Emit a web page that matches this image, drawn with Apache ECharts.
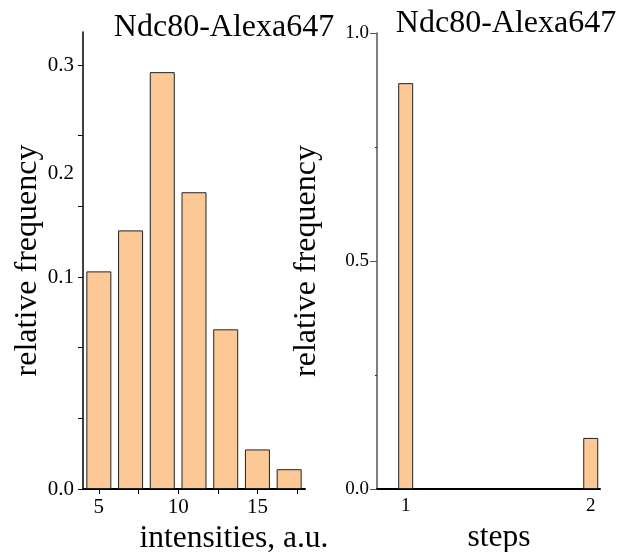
<!DOCTYPE html>
<html>
<head>
<meta charset="utf-8">
<script src="https://cdn.jsdelivr.net/npm/echarts@6/dist/echarts.min.js"></script>
<style>html,body{margin:0;padding:0;background:#fff}#c{width:622px;height:552px}</style>
</head>
<body>
<div id="c"></div>
<script>
// ---- data ----
const titleText = 'Ndc80-Alexa647';
const intensityBins = [5, 7, 9, 11, 13, 15, 17];
const intensityFreq = [0.154, 0.183, 0.295, 0.210, 0.113, 0.028, 0.014];
const stepBins = [1, 2];
const stepFreq = [0.890, 0.112];
const leftXTicks = [5, 7.5, 10, 12.5, 15, 17.5];
const leftXLabels = [5, 10, 15];
const leftYTicks = [0, 0.05, 0.1, 0.15, 0.2, 0.25, 0.3];
const leftYLabelPos = [0, 0.15, 0.2236, 0.3];
const leftYLabelText = ['0.0', '0.1', '0.2', '0.3'];
const rightXLabels = [1, 2];
const rightYLabelText = ['0.0', '0.5', '1.0'];

const FONT = '"Liberation Serif", "DejaVu Serif", serif';
const barColor = '#FCC895';

function nearestLabel(v) {
  let best = 0;
  for (let i = 1; i < leftYLabelPos.length; i++) {
    if (Math.abs(leftYLabelPos[i] - v) < Math.abs(leftYLabelPos[best] - v)) best = i;
  }
  return leftYLabelText[best];
}

const chart = echarts.init(document.getElementById('c'), null, {renderer: 'canvas'});
chart.setOption({
  backgroundColor: '#fff',
  animation: false,
  title: [
    {text: titleText, left: 224, top: 12, textAlign: 'center', padding: 0,
     textStyle: {fontFamily: FONT, fontSize: 32, fontWeight: 'normal', color: '#000'}},
    {text: titleText, left: 506, top: 8, textAlign: 'center', padding: 0,
     textStyle: {fontFamily: FONT, fontSize: 32, fontWeight: 'normal', color: '#000'}}
  ],
  grid: [
    {left: 83, top: 32, width: 222, height: 457, containLabel: false, outerBoundsMode: 'none'},
    {left: 377, top: 33, width: 223, height: 456, containLabel: false, outerBoundsMode: 'none'}
  ],
  xAxis: [
    {type: 'value', gridIndex: 0, min: 4, max: 18,
     name: 'intensities, a.u.', nameLocation: 'middle', nameGap: 30,
     nameTextStyle: {fontFamily: FONT, fontSize: 31.5, color: '#000', padding: [0, 0, 0, 80]},
     axisLine: {show: true, onZero: false, lineStyle: {color: '#000', width: 2}},
     axisTick: {show: true, length: 5, customValues: leftXTicks, lineStyle: {color: '#000', width: 1}},
     axisLabel: {customValues: leftXLabels, margin: 8, fontFamily: FONT, fontSize: 21, color: '#000'},
     splitLine: {show: false}},
    {type: 'value', gridIndex: 1, min: 0.845, max: 2.05,
     name: 'steps', nameLocation: 'middle', nameGap: 33,
     nameTextStyle: {fontFamily: FONT, fontSize: 31.5, color: '#000', padding: [0, 0, 0, 21]},
     axisLine: {show: true, onZero: false, lineStyle: {color: '#000', width: 2}},
     axisTick: {show: false},
     axisLabel: {customValues: rightXLabels, margin: 8, fontFamily: FONT, fontSize: 19, color: '#000'},
     splitLine: {show: false}}
  ],
  yAxis: [
    {type: 'value', gridIndex: 0, min: 0, max: 0.3234,
     name: 'relative frequency', nameLocation: 'middle', nameGap: 35,
     nameTextStyle: {fontFamily: FONT, fontSize: 32, color: '#000'},
     axisLine: {show: true, onZero: false, lineStyle: {color: '#000', width: 1.5}},
     axisTick: {show: true, length: 5, customValues: leftYTicks, lineStyle: {color: '#000', width: 1}},
     axisLabel: {customValues: leftYLabelPos, margin: 9, fontFamily: FONT, fontSize: 21, color: '#000',
                 formatter: v => nearestLabel(v)},
     splitLine: {show: false}},
    {type: 'value', gridIndex: 1, min: 0, max: 1, interval: 0.5,
     name: 'relative frequency', nameLocation: 'middle', nameGap: 54,
     nameTextStyle: {fontFamily: FONT, fontSize: 32, color: '#000'},
     axisLine: {show: true, onZero: false, lineStyle: {color: '#555', width: 1.5}},
     axisTick: {show: true, length: 7, lineStyle: {color: '#555', width: 1}},
     minorTick: {show: true, splitNumber: 2, length: 2, lineStyle: {color: '#333', width: 1}},
     axisLabel: {margin: 8, fontFamily: FONT, fontSize: 19, color: '#000',
                 formatter: v => rightYLabelText[Math.round(v / 0.5)]},
     splitLine: {show: false}}
  ],
  series: [
    {type: 'bar', xAxisIndex: 0, yAxisIndex: 0, barWidth: 25,
     data: intensityBins.map((x, i) => [x, intensityFreq[i]]),
     itemStyle: {color: barColor, borderColor: '#222', borderWidth: 1}},
    {type: 'bar', xAxisIndex: 1, yAxisIndex: 1, barWidth: 15,
     data: stepBins.map((x, i) => [x, stepFreq[i]]),
     itemStyle: {color: barColor, borderColor: '#222', borderWidth: 1}}
  ]
});
</script>
</body>
</html>
